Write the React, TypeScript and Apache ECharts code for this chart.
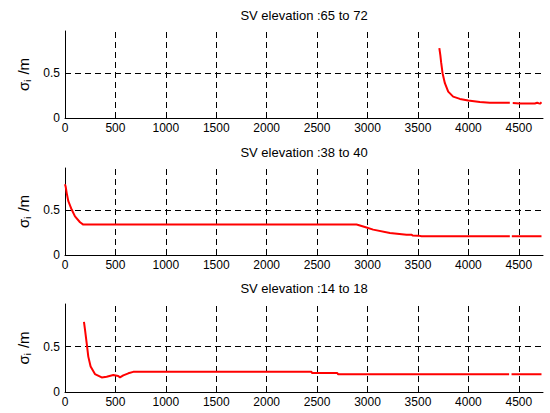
import { useEffect, useRef } from 'react';
import * as echarts from 'echarts';

const titles = ['SV elevation :65 to 72', 'SV elevation :38 to 40', 'SV elevation :14 to 18'];
const xTicks = [0, 500, 1000, 1500, 2000, 2500, 3000, 3500, 4000, 4500];
const yTicks = [0, 0.5];
const xMax = 4740;
const yMax = 0.97;

const p1X = [3712, 3722, 3730, 3744, 3767, 3800, 3849, 3916, 3998, 4114, 4213, 4300, 4411, 4425, 4440, 4510, 4600, 4659, 4682, 4700, 4710, 4725];
const p1Y = [0.78, 0.7, 0.62, 0.5, 0.388, 0.294, 0.238, 0.213, 0.194, 0.179, 0.171, 0.171, 0.171, null, 0.166, 0.162, 0.162, 0.162, 0.17, 0.163, 0.16, 0.175];

const p2X = [0, 7, 17, 33, 66, 99, 149, 181, 1000, 2000, 2891, 2908, 2974, 3056, 3222, 3387, 3440, 3445, 3502, 3536, 4000, 4411, 4421, 4431, 4725];
const p2Y = [0.79, 0.76, 0.69, 0.6, 0.507, 0.43, 0.365, 0.339, 0.339, 0.339, 0.339, 0.335, 0.313, 0.283, 0.246, 0.227, 0.225, 0.218, 0.216, 0.208, 0.208, 0.208, null, 0.208, 0.208];

const p3X = [188, 198, 215, 231, 254, 297, 364, 413, 479, 528, 545, 578, 628, 677, 1000, 2000, 2445, 2450, 2700, 2709, 4000, 4404, 4416, 4428, 4725];
const p3Y = [0.772, 0.69, 0.54, 0.39, 0.28, 0.198, 0.161, 0.168, 0.187, 0.176, 0.161, 0.183, 0.206, 0.222, 0.222, 0.222, 0.222, 0.209, 0.209, 0.195, 0.195, 0.195, null, 0.195, 0.195];

const panelsX = [p1X, p2X, p3X];
const panelsY = [p1Y, p2Y, p3Y];

const gridTops = [31, 168, 304];
const gridHeights = [87, 87, 88];
const titleYs = [15, 152, 288];

const FONT = '"Liberation Sans", Arial, Helvetica, sans-serif';

export default function App() {
  const ref = useRef<HTMLDivElement>(null);

  useEffect(() => {
    if (!ref.current) return;
    const chart = echarts.init(ref.current, null, { renderer: 'svg' });

    const grids = gridTops.map((top, i) => ({
      left: 65,
      width: 478,
      top,
      height: gridHeights[i],
      containLabel: false,
    }));

    const xAxes = gridTops.map((_, i) => ({
      type: 'value',
      gridIndex: i,
      min: 0,
      max: xMax,
      interval: 500,
      axisLine: { show: true, lineStyle: { color: '#000', width: 1 } },
      axisTick: { show: true, inside: true, length: 4, customValues: xTicks, lineStyle: { color: '#000' } },
      axisLabel: {
        customValues: xTicks,
        color: '#000',
        fontSize: 12,
        fontFamily: FONT,
        margin: 4,
        formatter: (v: number) => (xTicks.indexOf(v) >= 0 ? String(v) : ''),
      },
      splitLine: { show: false },
    }));

    const yAxes = gridTops.map((_, i) => ({
      type: 'value',
      gridIndex: i,
      min: 0,
      max: yMax,
      interval: 0.5,
      axisLine: { show: true, lineStyle: { color: '#000', width: 1 } },
      axisTick: { show: true, inside: true, length: 4, customValues: yTicks, lineStyle: { color: '#000' } },
      axisLabel: {
        customValues: yTicks,
        color: '#000',
        fontSize: 12,
        fontFamily: FONT,
        margin: 5,
        formatter: (v: number) => (yTicks.indexOf(v) >= 0 ? String(v) : ''),
      },
      splitLine: { show: false },
      name: '{s|σ}{i|i}{s| /m}',
      nameLocation: 'middle',
      nameGap: 30,
      nameRotate: 90,
      nameTextStyle: {
        color: '#000',
        fontFamily: FONT,
        rich: {
          s: { fontSize: 15, fontFamily: FONT, color: '#000' },
          i: { fontSize: 9, fontFamily: FONT, color: '#000', padding: [9, 1, 0, 0] },
        },
      },
    }));

    const series = panelsX.map((xs, i) => ({
      type: 'line',
      xAxisIndex: i,
      yAxisIndex: i,
      data: xs.map((x, j) => [x, panelsY[i][j] === null ? '-' : panelsY[i][j]]),
      showSymbol: false,
      symbol: 'none',
      connectNulls: false,
      lineStyle: { color: '#ff0000', width: 2 },
      itemStyle: { color: '#ff0000' },
      z: 5,
      markLine: {
        silent: true,
        symbol: ['none', 'none'],
        label: { show: false },
        emphasis: { disabled: true },
        lineStyle: { color: '#000', type: [6, 4], width: 1 },
        data: [
          ...xTicks.filter((v) => v > 0).map((v) => ({ xAxis: v })),
          ...yTicks.filter((v) => v > 0).map((v) => ({ yAxis: v })),
        ],
        z: 1,
      },
    }));

    const graphic = titles.map((t, i) => ({
      type: 'text',
      x: 304,
      y: titleYs[i],
      style: {
        text: t,
        fontSize: 13,
        fontFamily: FONT,
        fill: '#000',
        textAlign: 'center',
        textVerticalAlign: 'middle',
      },
    }));

    chart.setOption({
      animation: false,
      backgroundColor: '#fff',
      grid: grids,
      xAxis: xAxes,
      yAxis: yAxes,
      series,
      graphic,
    } as any);

    return () => {
      chart.dispose();
    };
  }, []);

  return (
    <div
      ref={ref}
      style={{ position: 'absolute', left: 0, top: 0, width: 550, height: 413, background: '#fff' }}
    />
  );
}
